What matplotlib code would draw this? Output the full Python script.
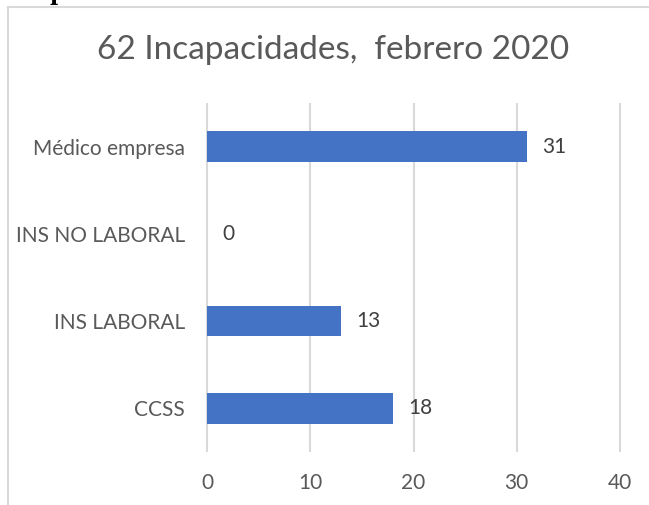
import matplotlib.pyplot as plt
from matplotlib.lines import Line2D

# data
categories = ['CCSS', 'INS LABORAL', 'INS NO LABORAL', 'Médico empresa']
values = [18, 13, 0, 31]
xticks = [0, 10, 20, 30, 40]
title = '62 Incapacidades,  febrero 2020'

plt.rcParams['font.family'] = ['Lato', 'DejaVu Sans']

fig = plt.figure(figsize=(6.49, 5.05), dpi=100)

# chart frame: only left and top edges show, the rest is cropped
fx, fy = 7.5 / 649, 1 - 6.5 / 505
fig.add_artist(Line2D([fx, fx], [0, fy], transform=fig.transFigure,
                      color='#D9D9D9', lw=1.5))
fig.add_artist(Line2D([fx, 1], [fy, fy], transform=fig.transFigure,
                      color='#D9D9D9', lw=1.5))
# cropped text fragment above the frame
fig.text(57 / 649, 1.0, 'p', family='DejaVu Serif', weight='bold',
         fontsize=16, color='black', ha='center', va='baseline')

ax = fig.add_axes([207 / 649, 1 - 452 / 505, 413 / 649, 349 / 505])
ypos = range(len(categories))
ax.barh(ypos, values, height=0.35, color='#4472C4', zorder=3)

for y, v in zip(ypos, values):
    ax.annotate(str(v), (v, y), xytext=(11, 0), textcoords='offset points',
                va='center', ha='left', fontsize=15, color='#404040')

ax.set_xlim(0, 40)
ax.set_ylim(-0.5, len(categories) - 0.5)
ax.set_xticks(xticks)
ax.set_yticks(list(ypos))
ax.set_yticklabels(categories)
# vertical gridlines, unclipped so the edge lines are full width
ax.vlines(xticks, -0.5, len(categories) - 0.5, color='#D9D9D9', lw=1.5,
          zorder=0, clip_on=False)
for s in ax.spines.values():
    s.set_visible(False)
ax.tick_params(length=0, labelsize=15, labelcolor='#595959')
ax.tick_params(axis='x', pad=15)
ax.tick_params(axis='y', pad=16)

fig.text(333 / 649, 1 - 50 / 505, title, ha='center', va='center',
         fontsize=24, color='#595959')

fig.savefig('out.png', dpi=100)
